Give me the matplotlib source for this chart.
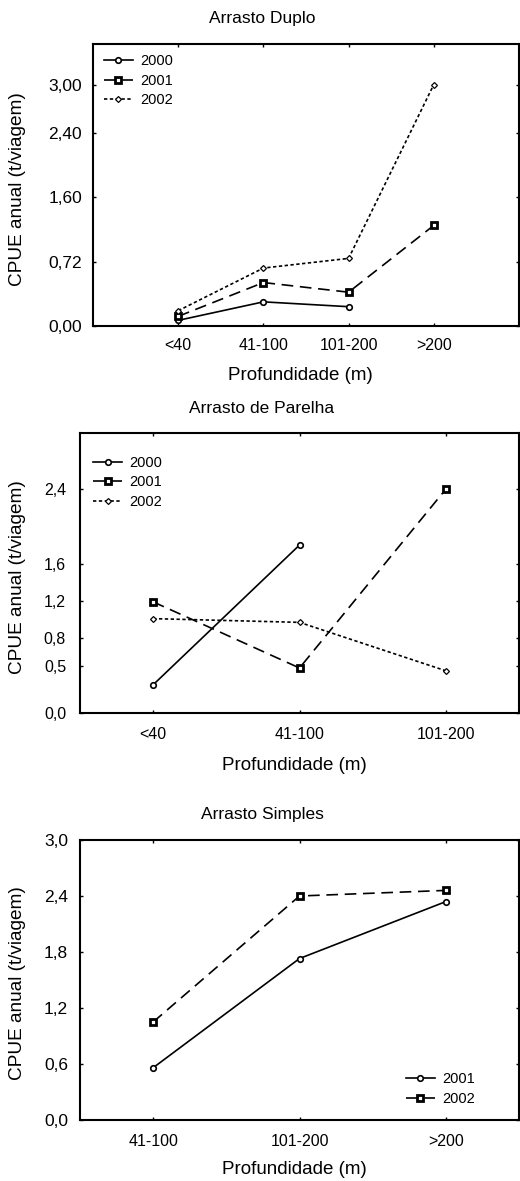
import matplotlib
matplotlib.use("Agg")
import matplotlib.pyplot as plt

plt.rcParams["font.family"] = ["Liberation Sans", "DejaVu Sans"]

# Arrasto Duplo
duplo_cats = ["<40", "41-100", "101-200", ">200"]
duplo_years = ["2000", "2001", "2002"]
duplo_2000 = [0.07, 0.30, 0.24, None]
duplo_2001 = [0.12, 0.54, 0.42, 1.25]
duplo_2002 = [0.19, 0.72, 0.84, 3.00]
duplo_yticks = [0.0, 0.8, 1.6, 2.4, 3.0]
duplo_ylabels = ["0,00", "0,72", "1,60", "2,40", "3,00"]

# Arrasto de Parelha
parelha_cats = ["<40", "41-100", "101-200"]
parelha_years = ["2000", "2001", "2002"]
parelha_2000 = [0.30, 1.80, None]
parelha_2001 = [1.19, 0.48, 2.40]
parelha_2002 = [1.01, 0.97, 0.45]
parelha_yticks = [0.0, 0.5, 0.8, 1.2, 1.6, 2.4]
parelha_ylabels = ["0,0", "0,5", "0,8", "1,2", "1,6", "2,4"]

# Arrasto Simples
simples_cats = ["41-100", "101-200", ">200"]
simples_years = ["2001", "2002"]
simples_2001 = [0.56, 1.73, 2.34]
simples_2002 = [1.05, 2.40, 2.46]
simples_yticks = [0.0, 0.6, 1.2, 1.8, 2.4, 3.0]
simples_ylabels = ["0,0", "0,6", "1,2", "1,8", "2,4", "3,0"]

W, H = 520, 1181
fig = plt.figure(figsize=(W / 100, H / 100), dpi=100)

# first series solid/circle, second dashed/square, third dotted/diamond
STYLES = [
    dict(color="black", lw=1.2, ls="-", marker="o", ms=4.0,
         mfc="white", mec="black", mew=1.2),
    dict(color="black", lw=1.2, dashes=(7, 4), marker="s", ms=4.5,
         mfc="white", mec="black", mew=2.0),
    dict(color="black", lw=1.2, dashes=(2, 1.5), marker="D", ms=3.0,
         mfc="white", mec="black", mew=0.9),
]


def px_axes(left, top, right, bottom):
    return fig.add_axes([left / W, 1 - bottom / H, (right - left) / W, (bottom - top) / H])


def style_axes(ax, ypad, xpad, yfs, xfs):
    for s in ax.spines.values():
        s.set_linewidth(1.5)
    ax.tick_params(direction="in", length=2.5, width=1, top=True, right=True)
    ax.tick_params(axis="y", pad=ypad, labelsize=yfs)
    ax.tick_params(axis="x", pad=xpad, labelsize=xfs)


def plot_series(ax, cats, years, series):
    x = list(range(len(cats)))
    for i, (name, vals) in enumerate(zip(years, series)):
        xs = [xi for xi, v in zip(x, vals) if v is not None]
        ys = [v for v in vals if v is not None]
        ax.plot(xs, ys, label=name, **STYLES[i])
    ax.set_xticks(x)
    ax.set_xticklabels(cats)


LEG = dict(frameon=False, fontsize=10.5, handlelength=2.0, handletextpad=0.5,
           labelspacing=0.38, borderpad=0, borderaxespad=0)

# --- top panel
ax1 = px_axes(93, 44.3, 519, 326)
plot_series(ax1, duplo_cats, duplo_years, [duplo_2000, duplo_2001, duplo_2002])
ax1.set_xlim(-1, 4)
ax1.set_ylim(0, 3.5)
ax1.set_yticks(duplo_yticks)
ax1.set_yticklabels(duplo_ylabels)
style_axes(ax1, 8, 8.5, 12.5, 11.5)
ax1.legend(loc="upper left", bbox_to_anchor=(0.025, 0.965), **LEG)

# --- middle panel
ax2 = px_axes(80, 433.3, 519, 712.7)
plot_series(ax2, parelha_cats, parelha_years, [parelha_2000, parelha_2001, parelha_2002])
ax2.set_xlim(-0.5, 2.5)
ax2.set_ylim(0, 3.0)
ax2.set_yticks(parelha_yticks)
ax2.set_yticklabels(parelha_ylabels)
style_axes(ax2, 10, 10, 11.5, 11.5)
ax2.legend(loc="upper left", bbox_to_anchor=(0.03, 0.92), **LEG)

# --- bottom panel
ax3 = px_axes(80, 840, 519, 1120)
plot_series(ax3, simples_cats, simples_years, [simples_2001, simples_2002])
ax3.set_xlim(-0.5, 2.5)
ax3.set_ylim(0, 3.0)
ax3.set_yticks(simples_yticks)
ax3.set_yticklabels(simples_ylabels)
style_axes(ax3, 8.5, 10, 12.5, 11.5)
ax3.legend(loc="lower right", bbox_to_anchor=(0.90, 0.05), **LEG)

# titles and axis labels
for title, y in [("Arrasto Duplo", 18.3), ("Arrasto de Parelha", 409), ("Arrasto Simples", 814)]:
    fig.text(262 / W, 1 - y / H, title, ha="center", va="center", fontsize=12.5)

for x, y in [(300, 375.7), (294, 765), (294, 1170)]:
    fig.text(x / W, 1 - y / H, "Profundidade (m)", ha="center", va="center", fontsize=13.5)

for y in [189, 576.7, 983]:
    fig.text(18 / W, 1 - y / H, "CPUE anual (t/viagem)", ha="center", va="center",
             rotation=90, fontsize=13.7)

fig.savefig("out.png", dpi=100)
